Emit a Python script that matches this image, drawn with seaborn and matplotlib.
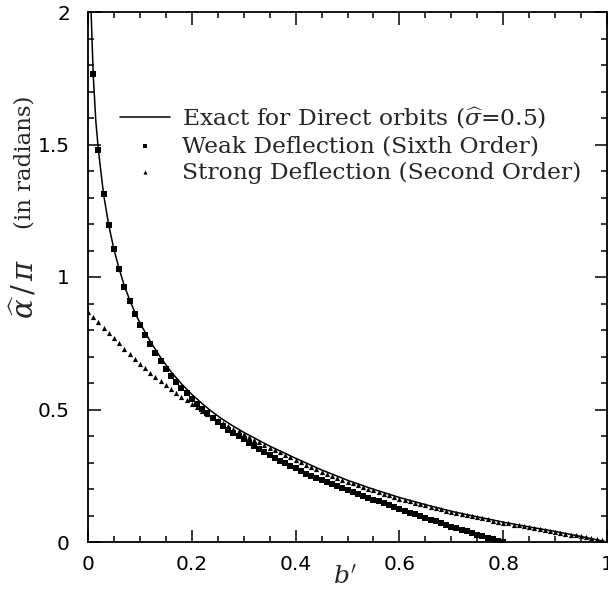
import matplotlib
matplotlib.use("Agg")
import matplotlib.pyplot as plt
from matplotlib.ticker import MultipleLocator, FuncFormatter
import seaborn as sns
import pandas as pd

# ---- data ----
exact_b = [0.006, 0.01, 0.015, 0.02, 0.03, 0.04, 0.05, 0.06, 0.07, 0.08, 0.09,
           0.10, 0.12, 0.14, 0.16, 0.18, 0.20, 0.22, 0.24, 0.26, 0.28, 0.30,
           0.32, 0.35, 0.40, 0.45, 0.50, 0.55, 0.60, 0.65, 0.70, 0.75, 0.80,
           0.85, 0.90, 0.95, 1.00]
exact_a = [2.00, 1.765, 1.59, 1.479, 1.312, 1.196, 1.104, 1.031, 0.967, 0.915, 0.868,
           0.827, 0.757, 0.696, 0.642, 0.597, 0.557, 0.522, 0.490, 0.462, 0.437, 0.414,
           0.393, 0.362, 0.316, 0.272, 0.233, 0.199, 0.168, 0.141, 0.116, 0.095, 0.075,
           0.057, 0.040, 0.021, 0.000]

weak_b = [round(0.01 * k, 2) for k in range(1, 81)]
weak_a = [1.765, 1.479, 1.312, 1.196, 1.104, 1.029, 0.963, 0.911, 0.861, 0.820,
          0.781, 0.746, 0.712, 0.682, 0.654, 0.627, 0.603, 0.581, 0.561, 0.541,
          0.522, 0.503, 0.485, 0.469, 0.454, 0.439, 0.424, 0.411, 0.399, 0.388,
          0.375, 0.363, 0.351, 0.339, 0.328, 0.317, 0.307, 0.297, 0.288, 0.279,
          0.268, 0.258, 0.250, 0.242, 0.234, 0.226, 0.218, 0.210, 0.202, 0.195,
          0.188, 0.181, 0.174, 0.167, 0.160, 0.153, 0.146, 0.139, 0.132, 0.125,
          0.118, 0.111, 0.104, 0.098, 0.091, 0.084, 0.078, 0.071, 0.065, 0.058,
          0.052, 0.046, 0.040, 0.034, 0.028, 0.022, 0.016, 0.010, 0.005, 0.000]

strong_b = [round(0.01 * k, 2) for k in range(0, 101)]
strong_a = [0.868, 0.850, 0.829, 0.808, 0.788, 0.769, 0.750, 0.729, 0.710, 0.691,
            0.673, 0.655, 0.639, 0.622, 0.607, 0.591, 0.577, 0.562, 0.549, 0.535,
            0.522, 0.509, 0.496, 0.484, 0.472, 0.460, 0.449, 0.438, 0.427, 0.417,
            0.406, 0.396, 0.386, 0.376, 0.366, 0.356, 0.347, 0.338, 0.329, 0.320,
            0.311, 0.301, 0.292, 0.283, 0.275, 0.266, 0.258, 0.250, 0.243, 0.235,
            0.228, 0.221, 0.214, 0.208, 0.201, 0.195, 0.188, 0.182, 0.176, 0.169,
            0.163, 0.158, 0.153, 0.148, 0.143, 0.138, 0.133, 0.128, 0.123, 0.118,
            0.113, 0.109, 0.105, 0.101, 0.097, 0.093, 0.089, 0.085, 0.081, 0.077,
            0.073, 0.070, 0.066, 0.063, 0.059, 0.056, 0.053, 0.049, 0.046, 0.042,
            0.039, 0.035, 0.032, 0.028, 0.025, 0.021, 0.018, 0.014, 0.011, 0.007,
            0.004]

labels = ["Exact for Direct orbits ($\\widehat{\\sigma}$=0.5)",
          "Weak Deflection (Sixth Order)",
          "Strong Deflection (Second Order)"]
x_ticks = [0, 0.2, 0.4, 0.6, 0.8, 1.0]
y_ticks = [0, 0.5, 1.0, 1.5, 2.0]

# ---- plotting ----
sns.set_style("ticks")
plt.rcParams["font.family"] = ["DejaVu Sans"]
plt.rcParams["mathtext.fontset"] = "dejavuserif"

fig = plt.figure(figsize=(6.08, 6.09), dpi=100)
ax = fig.add_axes([88 / 608, 67 / 609, 519 / 608, 530 / 609])

df_exact = pd.DataFrame({"b": exact_b, "a": exact_a})
df_weak = pd.DataFrame({"b": weak_b, "a": weak_a})
df_strong = pd.DataFrame({"b": strong_b, "a": strong_a})

sns.lineplot(data=df_exact, x="b", y="a", ax=ax, color="black", lw=1.1,
             label=labels[0], sort=False, estimator=None)
sns.scatterplot(data=df_weak, x="b", y="a", ax=ax, color="black", marker="s",
                s=18, linewidth=0, label=labels[1])
sns.scatterplot(data=df_strong, x="b", y="a", ax=ax, color="black", marker="^",
                s=14, linewidth=0, label=labels[2])

ax.set_xlim(0, 1)
ax.set_ylim(0, 2)
ax.set_xticks(x_ticks)
ax.set_yticks(y_ticks)
fmt = FuncFormatter(lambda v, p: ("%g" % v))
ax.xaxis.set_major_formatter(fmt)
ax.yaxis.set_major_formatter(fmt)
ax.xaxis.set_minor_locator(MultipleLocator(0.05))
ax.yaxis.set_minor_locator(MultipleLocator(0.1))
ax.tick_params(which="both", direction="in", top=True, right=True,
               width=1.1, colors="black")
ax.tick_params(which="major", length=9, labelsize=14.5)
ax.tick_params(which="minor", length=4.5)
ax.tick_params(axis="x", which="major", pad=9)
ax.tick_params(axis="y", which="major", pad=13)
for sp in ax.spines.values():
    sp.set_visible(True)
    sp.set_linewidth(1.3)
    sp.set_color("black")

ax.set_xlabel("$b'$", fontsize=18, family="DejaVu Serif")
ax.xaxis.set_label_coords(0.495, -0.045)
ax.set_ylabel("")
ax.text(-0.123, 0.717, "(in radians)", transform=ax.transAxes, rotation=90,
        ha="center", va="center", fontsize=16.5, family="DejaVu Serif")
ax.text(-0.123, 0.478, "$\\widehat{\\alpha}\\,/\\,\\pi$", transform=ax.transAxes,
        rotation=90, ha="center", va="center", fontsize=21,
        family="DejaVu Serif")

leg = ax.legend(loc="upper left", bbox_to_anchor=(0.0617, 0.8233),
                frameon=False, borderpad=0, borderaxespad=0,
                handlelength=2.15, handletextpad=0.5, labelspacing=0.18,
                prop={"family": "DejaVu Serif", "size": 16.8},
                markerscale=0.8)

fig.savefig("out.png", dpi=100)
